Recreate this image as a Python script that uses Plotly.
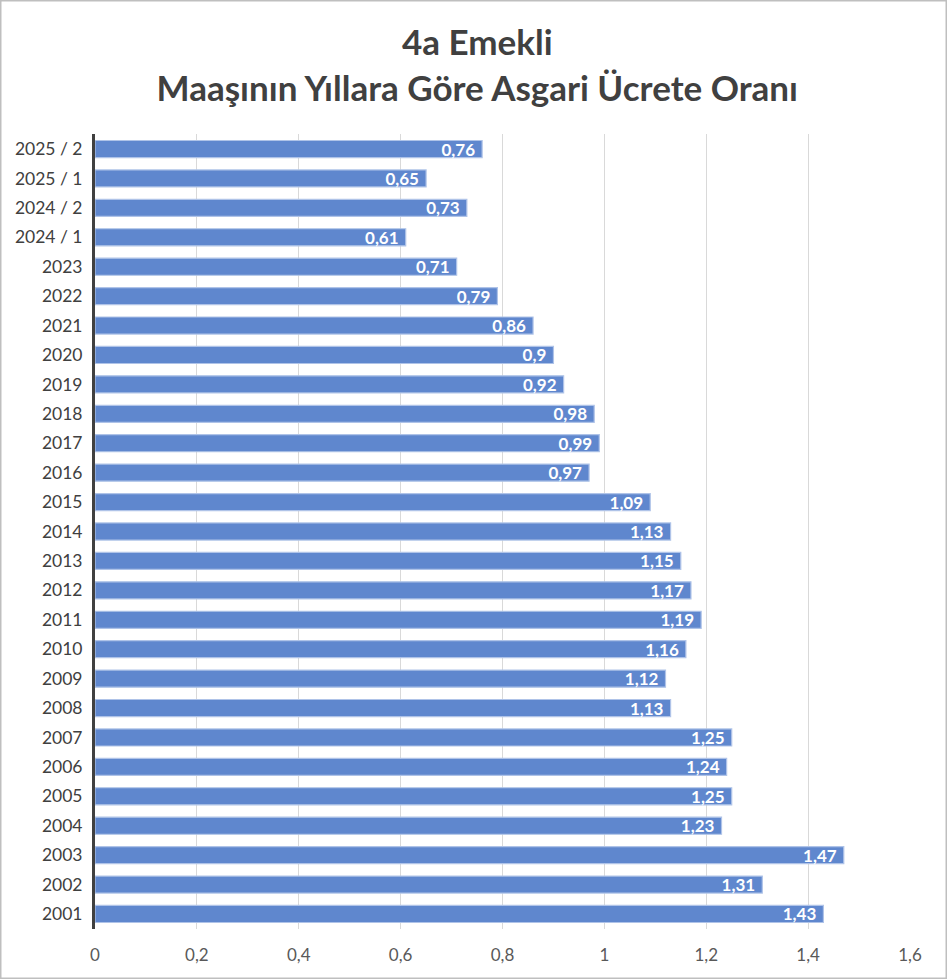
import plotly.graph_objects as go

# categories bottom -> top, as drawn
periods = [
    "2001", "2002", "2003", "2004", "2005", "2006", "2007", "2008", "2009",
    "2010", "2011", "2012", "2013", "2014", "2015", "2016", "2017", "2018",
    "2019", "2020", "2021", "2022", "2023",
    "2024 / 1", "2024 / 2", "2025 / 1", "2025 / 2",
]
ratios = [
    1.43, 1.31, 1.47, 1.23, 1.25, 1.24, 1.25, 1.13, 1.12,
    1.16, 1.19, 1.17, 1.15, 1.13, 1.09, 0.97, 0.99, 0.98,
    0.92, 0.90, 0.86, 0.79, 0.71,
    0.61, 0.73, 0.65, 0.76,
]
x_ticks = [0, 0.2, 0.4, 0.6, 0.8, 1.0, 1.2, 1.4, 1.6]

W, H = 947, 979
FONT = "Lato"

# comma decimals, a little padding before the bar end
labels = [f"{v:g}".replace(".", ",") + "\u00a0" for v in ratios]

fig = go.Figure()
fig.add_trace(go.Bar(
    x=ratios, y=periods, orientation="h",
    width=0.58,
    marker=dict(color="#5F87CE", line=dict(color="#AFC3E8", width=1.2)),
    text=labels, textposition="inside", insidetextanchor="end",
    constraintext="none",
    textfont=dict(family=FONT, size=17, color="white", weight="bold"),
    hoverinfo="x+y",
))

fig.update_xaxes(
    domain=[95 / W, 910 / W], range=[0, 1.6], automargin=False,
    tickvals=x_ticks, showgrid=True, gridcolor="#D9D9D9", gridwidth=1,
    zeroline=False, showline=False, ticks="",
    ticklabelstandoff=14,
    tickfont=dict(family=FONT, size=17, color="#595959"),
)
fig.update_yaxes(
    domain=[1 - 928.7 / H, 1 - 134.3 / H], automargin=False,
    type="category", categoryorder="array", categoryarray=periods,
    showgrid=False, zeroline=False, showline=True,
    linecolor="#404040", linewidth=3, ticks="",
    ticklabelstandoff=6,
    tickfont=dict(family=FONT, size=17.5, color="#404040"),
)

fig.update_layout(
    width=W, height=H,
    margin=dict(l=0, r=0, t=0, b=0),
    paper_bgcolor="white", plot_bgcolor="white",
    separators=",.",
    showlegend=False,
    title=dict(
        text="4a Emekli<br>Maaşının Yıllara Göre Asgari Ücrete Oranı",
        x=0.504, xanchor="center", y=1 - 55 / H, yanchor="middle",
        font=dict(family=FONT, size=35, color="#404040", weight="bold"),
    ),
    shapes=[dict(type="rect", xref="paper", yref="paper", x0=0, y0=0, x1=1, y1=1,
                 line=dict(color="#BFBFBF", width=3), fillcolor="rgba(0,0,0,0)")],
)

fig.write_html(
    "out.html",
    config=dict(displayModeBar=False),
    post_script="document.body.style.margin='0';"
                "document.documentElement.style.overflow='hidden';",
)
